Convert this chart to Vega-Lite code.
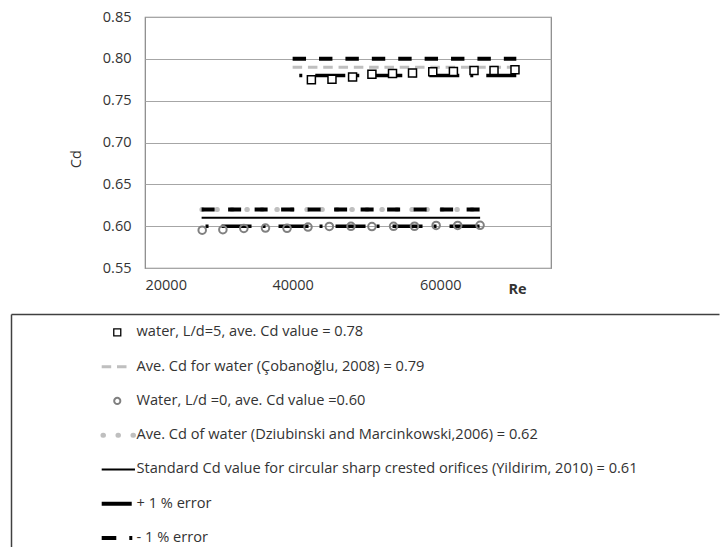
{
  "$schema": "https://vega.github.io/schema/vega-lite/v6.json",
  "padding": {"left": 11, "top": 8, "right": 0, "bottom": 0},
  "background": "white",
  "spacing": 17,
  "config": {"font": "Open Sans", "view": {"stroke": "#868686", "strokeWidth": 1.2}},
  "datasets": {
    "points": [
      {"series": "L/d=5", "Re": 42540, "Cd": 0.7751},
      {"series": "L/d=5", "Re": 45330, "Cd": 0.7755},
      {"series": "L/d=5", "Re": 48120, "Cd": 0.7783},
      {"series": "L/d=5", "Re": 50740, "Cd": 0.7815},
      {"series": "L/d=5", "Re": 53530, "Cd": 0.7825},
      {"series": "L/d=5", "Re": 56240, "Cd": 0.7831},
      {"series": "L/d=5", "Re": 58980, "Cd": 0.7846},
      {"series": "L/d=5", "Re": 61780, "Cd": 0.7848},
      {"series": "L/d=5", "Re": 64570, "Cd": 0.786},
      {"series": "L/d=5", "Re": 67280, "Cd": 0.7862},
      {"series": "L/d=5", "Re": 70120, "Cd": 0.787},
      {"series": "L/d=0", "Re": 27750, "Cd": 0.5952},
      {"series": "L/d=0", "Re": 30550, "Cd": 0.5958},
      {"series": "L/d=0", "Re": 33390, "Cd": 0.5973},
      {"series": "L/d=0", "Re": 36320, "Cd": 0.5978},
      {"series": "L/d=0", "Re": 39240, "Cd": 0.5975},
      {"series": "L/d=0", "Re": 42080, "Cd": 0.599},
      {"series": "L/d=0", "Re": 44970, "Cd": 0.5997},
      {"series": "L/d=0", "Re": 47900, "Cd": 0.5998},
      {"series": "L/d=0", "Re": 50740, "Cd": 0.5995},
      {"series": "L/d=0", "Re": 53670, "Cd": 0.5998},
      {"series": "L/d=0", "Re": 56510, "Cd": 0.5999},
      {"series": "L/d=0", "Re": 59440, "Cd": 0.6009},
      {"series": "L/d=0", "Re": 62360, "Cd": 0.6009},
      {"series": "L/d=0", "Re": 65390, "Cd": 0.601}
    ],
    "lines": [
      {"series": "Cobanoglu", "Re": 40000, "Cd": 0.79},
      {"series": "Cobanoglu", "Re": 70300, "Cd": 0.79},
      {"series": "plus_up", "Re": 40000, "Cd": 0.80},
      {"series": "plus_up", "Re": 70300, "Cd": 0.80},
      {"series": "minus_up", "Re": 40900, "Cd": 0.78},
      {"series": "minus_up", "Re": 70300, "Cd": 0.78},
      {"series": "Dziubinski", "Re": 27700, "Cd": 0.62},
      {"series": "Dziubinski", "Re": 65400, "Cd": 0.62},
      {"series": "plus_low", "Re": 27670, "Cd": 0.62},
      {"series": "plus_low", "Re": 65500, "Cd": 0.62},
      {"series": "Standard", "Re": 27670, "Cd": 0.61},
      {"series": "Standard", "Re": 65400, "Cd": 0.61},
      {"series": "minus_low", "Re": 28200, "Cd": 0.60},
      {"series": "minus_low", "Re": 65400, "Cd": 0.60}
    ],
    "legend": [
      {"item": 1, "label": "water, L/d=5, ave. Cd value = 0.78"},
      {"item": 2, "label": "Ave. Cd for water (Çobanoğlu, 2008) = 0.79"},
      {"item": 3, "label": "Water, L/d =0, ave. Cd value =0.60"},
      {"item": 4, "label": "Ave. Cd of water (Dziubinski and Marcinkowski,2006) = 0.62"},
      {"item": 5, "label": "Standard Cd value for circular sharp crested orifices (Yildirim, 2010)  = 0.61"},
      {"item": 6, "label": "+ 1 % error"},
      {"item": 7, "label": "- 1 % error"}
    ]
  },
  "vconcat": [
    {
      "width": 406,
      "height": 251,
      "encoding": {
        "x": {
          "field": "Re", "type": "quantitative",
          "scale": {"domain": [20000, 75000], "nice": false, "zero": false},
          "axis": {
            "values": [20000, 40000, 60000], "format": "d", "grid": false, "domain": false, "ticks": false,
            "labelFontSize": 14.5, "labelColor": "#333333", "labelPadding": 10,
            "title": "Re", "titleX": 372, "titleY": 21, "titleBaseline": "middle", "titleAlign": "center",
            "titleFontSize": 14.5, "titleFontWeight": "bold", "titleColor": "#333333"
          }
        },
        "y": {
          "field": "Cd", "type": "quantitative",
          "scale": {"domain": [0.55, 0.85], "nice": false, "zero": false},
          "axis": {
            "values": [0.55, 0.6, 0.65, 0.7, 0.75, 0.8, 0.85], "format": ".2f",
            "grid": true, "gridColor": "#a6a6a6", "gridWidth": 1.2, "domain": false, "ticks": false,
            "labelFontSize": 14.5, "labelColor": "#333333", "labelPadding": 14,
            "title": "Cd", "titleX": -69, "titleY": 141.7, "titleAngle": -90, "titleBaseline": "middle",
            "titleAlign": "center", "titleFontSize": 14.5, "titleFontWeight": "normal", "titleColor": "#333333"
          }
        }
      },
      "layer": [
        {"data": {"name": "lines"}, "transform": [{"filter": "datum.series === 'Dziubinski'"}],
         "mark": {"type": "line", "stroke": "#bfbfbf", "strokeWidth": 5, "strokeCap": "round", "strokeDash": [0.5, 14.5]}},
        {"data": {"name": "lines"}, "transform": [{"filter": "datum.series === 'Cobanoglu'"}],
         "mark": {"type": "line", "stroke": "#bfbfbf", "strokeWidth": 3, "strokeDash": [9.5, 5.8]}},
        {"data": {"name": "lines"}, "transform": [{"filter": "datum.series === 'Standard'"}],
         "mark": {"type": "line", "stroke": "#000000", "strokeWidth": 2}},
        {"data": {"name": "lines"}, "transform": [{"filter": "datum.series === 'plus_up'"}],
         "mark": {"type": "line", "stroke": "#000000", "strokeWidth": 4, "strokeDash": [13.4, 13]}},
        {"data": {"name": "lines"}, "transform": [{"filter": "datum.series === 'plus_low'"}],
         "mark": {"type": "line", "stroke": "#000000", "strokeWidth": 4, "strokeDash": [13, 13.5]}},
        {"data": {"name": "lines"}, "transform": [{"filter": "datum.series === 'minus_up' || datum.series === 'minus_low'"}],
         "mark": {"type": "line", "stroke": "#000000", "strokeWidth": 3.5, "strokeDash": [3, 13, 30, 11]},
         "encoding": {"detail": {"field": "series"}}},
        {"data": {"name": "points"}, "transform": [{"filter": "datum.series === 'L/d=5'"}],
         "mark": {"type": "point", "shape": "square", "filled": true, "fill": "white", "stroke": "#000000", "strokeWidth": 1.5, "size": 64, "opacity": 1}},
        {"data": {"name": "points"}, "transform": [{"filter": "datum.series === 'L/d=0'"}],
         "mark": {"type": "point", "shape": "circle", "filled": false, "stroke": "#808080", "strokeWidth": 2, "size": 57, "opacity": 1}}
      ]
    },
    {
      "width": 574,
      "height": 233,
      "view": {"stroke": null},
      "data": {"name": "legend"},
      "encoding": {
        "y": {
          "field": "item", "type": "quantitative",
          "scale": {"domain": [0.463, 7.262], "reverse": true, "nice": false, "zero": false},
          "axis": {"orient": "left", "offset": 134, "domain": true, "domainColor": "#404040", "domainWidth": 1.5, "labels": false, "ticks": false, "grid": false, "title": null}
        }
      },
      "layer": [
        {"mark": {"type": "text", "align": "left", "baseline": "middle", "fontSize": 14.6, "color": "#333333"},
         "encoding": {
           "x": {"datum": 0.1773, "type": "quantitative", "scale": {"domain": [0, 1], "range": [-134, 574], "nice": false, "zero": false},
                 "axis": {"orient": "top", "domain": true, "domainColor": "#404040", "domainWidth": 1.5, "labels": false, "ticks": false, "grid": false, "title": null}},
           "text": {"field": "label"}
         }},
        {"transform": [{"filter": "datum.item === 1"}],
         "mark": {"type": "point", "shape": "square", "filled": true, "fill": "white", "stroke": "#000000", "strokeWidth": 1.3, "size": 49, "opacity": 1},
         "encoding": {"x": {"datum": 0.1501, "type": "quantitative"}}},
        {"transform": [{"filter": "datum.item === 2"}],
         "mark": {"type": "rule", "stroke": "#bfbfbf", "strokeWidth": 3, "strokeDash": [9.5, 5.8]},
         "encoding": {"x": {"datum": 0.1281, "type": "quantitative"}, "x2": {"datum": 0.1643}}},
        {"transform": [{"filter": "datum.item === 3"}],
         "mark": {"type": "point", "shape": "circle", "filled": false, "stroke": "#808080", "strokeWidth": 2, "size": 38, "opacity": 1},
         "encoding": {"x": {"datum": 0.1501, "type": "quantitative"}}},
        {"transform": [{"filter": "datum.item === 4"}],
         "mark": {"type": "rule", "stroke": "#bfbfbf", "strokeWidth": 5, "strokeCap": "round", "strokeDash": [0.5, 14.5]},
         "encoding": {"x": {"datum": 0.1299, "type": "quantitative"}, "x2": {"datum": 0.1730}}},
        {"transform": [{"filter": "datum.item === 5"}],
         "mark": {"type": "rule", "stroke": "#000000", "strokeWidth": 2},
         "encoding": {"x": {"datum": 0.1281, "type": "quantitative"}, "x2": {"datum": 0.1751}}},
        {"transform": [{"filter": "datum.item === 6"}],
         "mark": {"type": "rule", "stroke": "#000000", "strokeWidth": 4},
         "encoding": {"x": {"datum": 0.1281, "type": "quantitative"}, "x2": {"datum": 0.1705}}},
        {"transform": [{"filter": "datum.item === 7"}],
         "mark": {"type": "rule", "stroke": "#000000", "strokeWidth": 4, "strokeDash": [14.6, 13, 3, 20]},
         "encoding": {"x": {"datum": 0.1281, "type": "quantitative"}, "x2": {"datum": 0.1723}}}
      ]
    }
  ]
}
